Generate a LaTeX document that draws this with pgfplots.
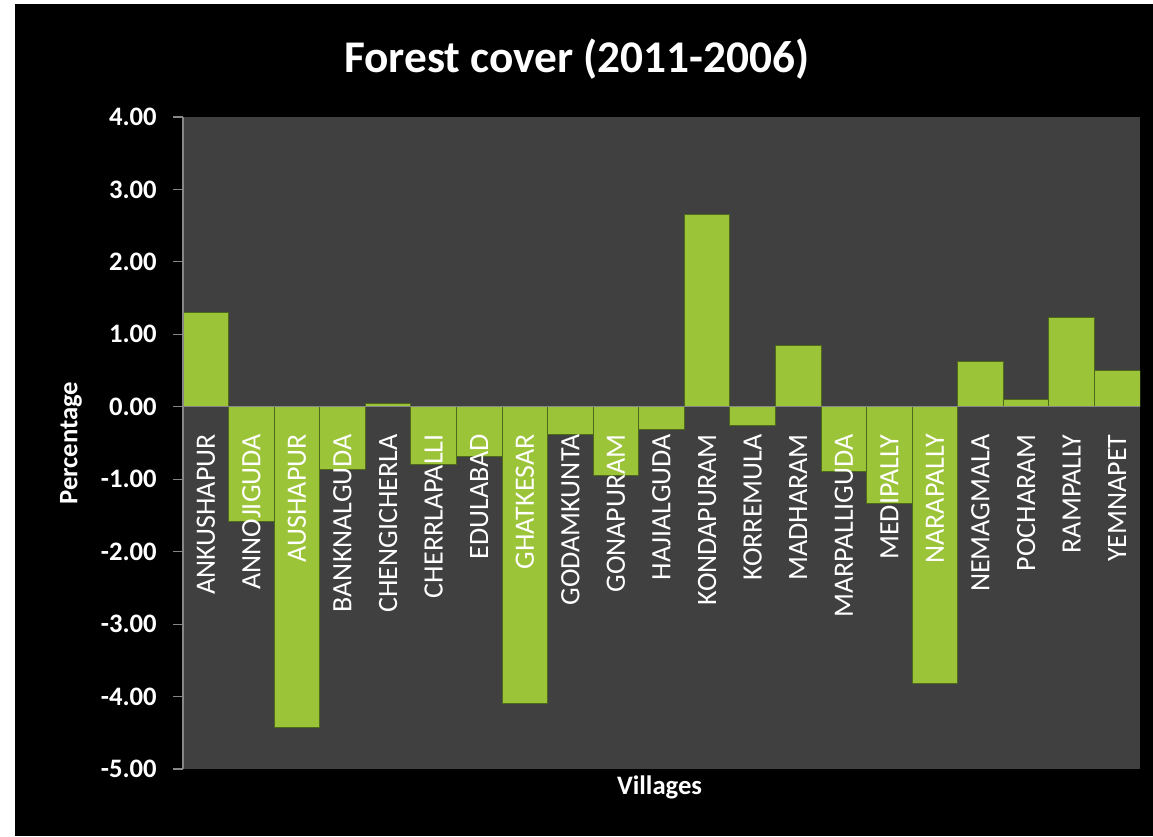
\documentclass[border=0pt]{standalone}
\usepackage{pgfplots}
\pgfplotsset{compat=1.18}
\usepackage{pgfplotstable}
\usepackage{fontspec}
\setmainfont{Carlito}
\definecolor{plotbg}{RGB}{64,64,64}
\definecolor{barmain}{RGB}{155,196,56}
\definecolor{baredge}{RGB}{78,105,28}
\definecolor{axisgray}{RGB}{135,135,135}

\pgfplotstableread{
idx value
0 1.30
1 -1.58
2 -4.43
3 -0.86
4 0.05
5 -0.79
6 -0.69
7 -4.09
8 -0.38
9 -0.95
10 -0.31
11 2.66
12 -0.26
13 0.85
14 -0.89
15 -1.34
16 -3.82
17 0.62
18 0.10
19 1.23
20 0.50
}\forestdata

\begin{document}
\begin{tikzpicture}
\fill[white] (-137.25pt,-50.25pt) rectangle (727.5pt,576.75pt);
\fill[black] (-126pt,-50.25pt) rectangle (727.5pt,573.75pt);
\begin{axis}[
  at={(0,0)}, anchor=south west,
  scale only axis, width=717.75pt, height=489pt,
  xmin=-0.5, xmax=20.5, ymin=-5, ymax=4,
  axis x line=middle, axis y line=left,
  axis on top,
  x axis line style={-, draw=axisgray, line width=0.8pt},
  y axis line style={-, draw=axisgray, line width=0.8pt},
  axis background/.style={fill=plotbg},
  hide obscured x ticks=false, hide obscured y ticks=false,
  ytick={-5,-4,-3,-2,-1,0,1,2,3,4},
  xtick={0,...,20},
  xticklabels={ANKUSHAPUR,ANNOJIGUDA,AUSHAPUR,BANKNALGUDA,CHENGICHERLA,CHERRLAPALLI,EDULABAD,GHATKESAR,GODAMKUNTA,GONAPURAM,HAJIALGUDA,KONDAPURAM,KORREMULA,MADHARAM,MARPALLIGUDA,MEDIPALLY,NARAPALLY,NEMAGMALA,POCHARAM,RAMPALLY,YEMNAPET},
  x tick style={draw=none},
  y tick style={draw=axisgray, line width=0.8pt},
  tick align=outside, major tick length=7.5pt,
  yticklabel style={anchor=east, inner sep=0pt, text=white,
    font=\fontsize{20}{22}\selectfont\bfseries,
    /pgf/number format/.cd, fixed, fixed zerofill, precision=2, assume math mode=true},
  yticklabel shift=12pt,
  xticklabel style={rotate=90, anchor=east, inner sep=0pt, text=white,
    font=\fontsize{21}{24}\selectfont},
  xticklabel shift=13pt,
  title={Forest cover (2011-2006)},
  title style={at={(axis description cs:0.4117,1.077)}, anchor=center, text=white,
    font=\fontsize{34}{40}\selectfont\bfseries},
  xlabel={Villages},
  xlabel style={at={(axis description cs:0.498,-0.0276)}, anchor=center, text=white,
    font=\fontsize{20}{24}\selectfont\bfseries},
  ylabel={Percentage},
  ylabel style={at={(axis description cs:-0.117,0.5)}, anchor=center, text=white,
    font=\fontsize{20}{24}\selectfont\bfseries},
  ybar, bar width=1,
]
\addplot[ybar, bar width=1, draw=baredge, line width=0.6pt, fill=barmain]
  table[x=idx, y=value]{\forestdata};
\end{axis}
\end{tikzpicture}
\end{document}
